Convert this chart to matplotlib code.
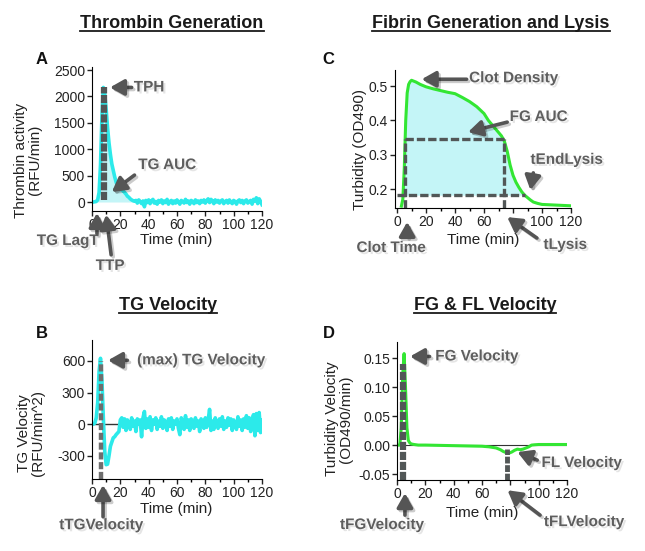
import matplotlib
matplotlib.use('Agg')
import matplotlib.pyplot as plt
import matplotlib.patheffects as pe
from matplotlib.lines import Line2D
from matplotlib.ticker import MultipleLocator, FormatStrFormatter

plt.rcParams['font.family'] = ['Liberation Sans', 'DejaVu Sans']
plt.rcParams['axes.unicode_minus'] = False

W, H = 645, 551

# ---- data ----
# A: thrombin activity (RFU/min), one value per minute 0..120
tg_time = list(range(0, 121))
tg_activity = [0, 0, 5, 10, 40, 180, 700, 1600, 2170, 2050,
               1750, 1400, 1120, 900, 720, 600, 480, 380, 300, 260,
               240, 230, 210, 180, 150, 110, 90, 60, 40, 25,
               15, 30, -20, 40, 10, -30, 20, -90, 30, -10,
               40, -30, 20, 50, -20, 10, -40, 30, 0, 40,
               -30, 20, -10, 50, -40, 10, 30, -30, 20, -20,
               40, 0, -40, 30, 10, -20, 50, -10, 20, -40,
               30, 10, -30, 40, -10, 20, -30, 30, 0, 40,
               -20, 30, 60, -10, 50, 20, -30, 40, 0, 30,
               -20, 20, 40, -30, 10, 30, -20, 40, 0, -30,
               30, 10, -40, 20, 40, -10, 30, -30, 20, 40,
               -20, 10, 30, -40, 50, 20, 80, -30, 60, 10, -50]
tg_lagt = 3.5
ttp = 8.5
tph = 2170

# B: TG velocity (RFU/min^2), one value per minute 0..120
tgv_time = list(range(0, 121))
tgv_value = [0, 0, 10, 60, 200, 500, 625, 420, 60, -260,
             -385, -380, -300, -210, -170, -130, -120, -100, -85, -70,
             40, 60, -30, 50, -60, 40, 10, -50, 60, -20,
             30, -70, 50, 0, 40, -120, 60, 120, -40, 50,
             -30, 70, -60, 40, 0, 60, -50, 30, -20, 70,
             -40, 40, 10, -60, 50, -20, 60, -50, 30, 0,
             50, -40, -100, 60, 20, -50, 80, -30, 40, -60,
             50, 0, -40, 60, -20, 30, -70, 50, 10, -40,
             60, -30, 40, 140, -60, 30, -50, 60, 0, -40,
             50, -20, 70, -50, 30, -30, 60, -10, 50, -60,
             40, 0, -50, 70, -20, 40, -60, 50, -30, 80,
             -40, 60, -70, 30, 90, -110, 100, -60, 110, -80, 40]
t_tgv = 6.0
max_tgv = 600

# C: turbidity (OD490)
fg_time = [3, 4, 5, 6, 7, 8, 9, 10, 13, 16, 20, 25, 30, 35, 40, 45, 50, 55,
           60, 63, 66, 69, 72, 74, 76, 78, 80, 82, 84, 86, 88, 90, 92, 94,
           97, 100, 105, 110, 115, 120]
fg_od = [0.15, 0.17, 0.26, 0.40, 0.48, 0.505, 0.513, 0.517, 0.512, 0.505,
         0.498, 0.492, 0.487, 0.482, 0.478, 0.467, 0.455, 0.44, 0.42, 0.40,
         0.385, 0.37, 0.355, 0.34, 0.31, 0.27, 0.24, 0.22, 0.205, 0.192,
         0.182, 0.175, 0.168, 0.162, 0.158, 0.155, 0.154, 0.153, 0.152, 0.151]
clot_time = 5.5
t_lysis = 73.5
t_end_lysis = 88
half_lysis_od = 0.345
baseline_od = 0.182

# D: turbidity velocity (OD490/min)
fgv_time = [0, 2, 3, 4, 5, 6, 7, 8, 9, 10, 12, 15, 20, 30, 40, 50, 60, 65,
            70, 73, 75, 77, 79, 81, 83, 85, 87, 89, 91, 93, 95, 97, 100, 110, 120]
fgv_value = [0, 0.0, 0.03, 0.12, 0.158, 0.10, 0.03, 0.008, 0.004, 0.002,
             0.001, 0.0, 0.0, -0.0005, -0.001, -0.0015, -0.002, -0.003,
             -0.005, -0.008, -0.011, -0.013, -0.014, -0.012, -0.009, -0.007,
             -0.008, -0.007, -0.005, -0.003, 0.0, 0.0005, 0.001, 0.001, 0.001]
t_fgv = 4.5
max_fgv = 0.14
t_flv = 77.5
min_flv = -0.006

cyan = '#2ceaea'
green = '#33e633'
fill_cyan = '#c4f5f7'
dash_col = '#525757'
lab_col = '#5e5e5e'

fig = plt.figure(figsize=(W / 100, H / 100), dpi=100)


def px_axes(l, t, r, b):
    return fig.add_axes([l / W, 1 - b / H, (r - l) / W, (b - t) / H])


def style(ax):
    for s in ['top', 'right']:
        ax.spines[s].set_visible(False)
    ax.tick_params(which='major', direction='out', length=3.5, width=1,
                   pad=1.5, labelsize=10, colors='#222222')
    ax.tick_params(which='minor', direction='out', length=2, width=1)
    ax.xaxis.set_major_locator(MultipleLocator(20))
    ax.xaxis.set_minor_locator(MultipleLocator(10))


def arrow(ax, head, tail):
    ax.annotate('', xy=head, xytext=tail, annotation_clip=False,
                arrowprops=dict(arrowstyle='-|>,head_width=0.34,head_length=0.6',
                                lw=2.6, color='#555555', mutation_scale=14,
                                shrinkA=0, shrinkB=0,
                                path_effects=[pe.SimpleLineShadow(offset=(1.5, -1.5), alpha=0.2),
                                              pe.Normal()]))


def label(ax, x, y, s, ha='left'):
    ax.text(x, y, s, ha=ha, va='center', fontsize=11, fontweight='bold',
            color=lab_col, clip_on=False,
            path_effects=[pe.SimplePatchShadow(offset=(1.5, -1.5), shadow_rgbFace='#999999', alpha=0.25),
                          pe.Normal()])


# ---- A ----
axA = px_axes(92, 67, 262, 211)
style(axA)
axA.set_xlim(0, 120)
axA.set_ylim(-170, 2557)
axA.yaxis.set_major_locator(MultipleLocator(500))
fill_t = [t for t in tg_time if tg_lagt <= t <= 30]
fill_v = [max(tg_activity[t], 0) for t in fill_t]
axA.fill_between(fill_t, fill_v, 0, color=fill_cyan, lw=0)
axA.plot(tg_time, tg_activity, color=cyan, lw=2.6)
axA.vlines(ttp, 40, tph, color=dash_col, lw=4.5, linestyles=(0, (1.3, 0.25)))
arrow(axA, (12.7, tph), (28, tph))
label(axA, 29.5, tph, 'TPH')
arrow(axA, (14, 190), (30, 510))
label(axA, 53, 700, 'TG AUC', ha='center')
arrow(axA, (tg_lagt, -208), (tg_lagt, -600))
label(axA, 4.5, -737, 'TG LagT', ha='right')
arrow(axA, (10, -240), (13.5, -1000))
label(axA, 12.7, -1210, 'TTP', ha='center')

# ---- B ----
axB = px_axes(92, 340, 262, 479)
style(axB)
axB.set_xlim(0, 120)
axB.set_ylim(-521, 799)
axB.yaxis.set_major_locator(MultipleLocator(300))
axB.axhline(0, color='#333333', lw=1)
axB.plot(tgv_time, tgv_value, color=cyan, lw=2.6)
axB.vlines(t_tgv, -521, max_tgv, color='#6e6e6e', lw=3.2, linestyles=(0, (1.6, 0.6)))
arrow(axB, (11.3, 606), (25, 606))
label(axB, 31.8, 606, '(max) TG Velocity')
arrow(axB, (7.8, -578), (7.8, -880))
label(axB, 6.5, -960, 'tTGVelocity', ha='center')

# ---- C ----
axC = px_axes(395, 70, 571, 208)
style(axC)
axC.set_xlim(-1.4, 120)
axC.set_ylim(0.1446, 0.547)
axC.yaxis.set_major_locator(MultipleLocator(0.1))
axC.yaxis.set_major_formatter(FormatStrFormatter('%.1f'))
axC.set_xticks([0, 20, 40, 60, 80, 100, 120], ['0', '20', '40', '60', '', '100', '120'])
axC.fill_between(fg_time, fg_od, baseline_od,
                 where=[clot_time - 1 <= t <= t_end_lysis for t in fg_time],
                 interpolate=True, color=fill_cyan, lw=0)
axC.plot(fg_time, fg_od, color=green, lw=2.2)
cdash = (0, (2.5, 0.9))
axC.vlines([clot_time, t_lysis], 0.1446, half_lysis_od, color=dash_col, lw=2.4, linestyles=cdash)
axC.hlines(half_lysis_od, clot_time, t_lysis, color=dash_col, lw=2.4, linestyles=cdash)
axC.hlines(baseline_od, 0, t_end_lysis, color=dash_col, lw=2.4, linestyles=cdash)
arrow(axC, (17, 0.52), (48, 0.52))
label(axC, 49.7, 0.523, 'Clot Density')
arrow(axC, (49, 0.366), (76, 0.395))
label(axC, 97.6, 0.41, 'FG AUC', ha='center')
arrow(axC, (92, 0.197), (94, 0.247))
label(axC, 117, 0.285, 'tEndLysis', ha='center')
arrow(axC, (7, 0.104), (7, 0.06))
label(axC, -4, 0.028, 'Clot Time', ha='center')
arrow(axC, (76, 0.118), (96.5, 0.057))
label(axC, 116, 0.037, 'tLysis', ha='center')

# ---- D ----
axD = px_axes(397, 342, 567, 480)
style(axD)
axD.set_xlim(0, 120)
axD.set_ylim(-0.0603, 0.178)
axD.yaxis.set_major_locator(MultipleLocator(0.05))
axD.yaxis.set_major_formatter(FormatStrFormatter('%.2f'))
axD.set_xticks([0, 20, 40, 60, 80, 100, 120], ['0', '20', '40', '60', '', '100', '120'])
axD.axhline(0, color='#333333', lw=0.8)
axD.plot(fgv_time, fgv_value, color=green, lw=2.2)
axD.vlines(t_fgv, -0.0603, max_fgv, color=dash_col, lw=4.5, linestyles=(0, (1.3, 0.3)))
axD.vlines(t_flv, -0.0603, min_flv, color=dash_col, lw=3.5, linestyles=(0, (1.4, 0.35)))
arrow(axD, (9.2, 0.153), (23, 0.153))
label(axD, 27, 0.153, 'FG Velocity')
arrow(axD, (85, -0.012), (99, -0.026))
label(axD, 102, -0.031, 'FL Velocity')
arrow(axD, (5.6, -0.083), (5.6, -0.121))
label(axD, -10.6, -0.138, 'tFGVelocity', ha='center')
arrow(axD, (78, -0.078), (101, -0.121))
label(axD, 132, -0.133, 'tFLVelocity', ha='center')

# ---- axis labels ----
def ftext(x, y, s, **kw):
    return fig.text(x / W, 1 - y / H, s, **kw)


lab = dict(fontsize=11, color='#222222', ha='center', va='center', multialignment='center')
ftext(28, 160, 'Thrombin activity\n(RFU/min)', rotation=90, linespacing=1.0, **lab)
ftext(31, 433, 'TG Velocity\n(RFU/min^2)', rotation=90, linespacing=1.0, **lab)
ftext(360, 150, 'Turbidity (OD490)', rotation=90, **lab)
ftext(339, 419, 'Turbidity Velocity\n(OD490/min)', rotation=90, linespacing=1.0, **lab)
for x, y in [(176, 240), (176, 509), (483, 240), (482, 513)]:
    ftext(x, y, 'Time (min)', **lab)

for x, y, s in [(41.5, 60, 'A'), (328, 59, 'C'), (41.5, 333, 'B'), (329, 334, 'D')]:
    ftext(x, y, s, fontsize=12, fontweight='bold', ha='center', va='center', color='#111111')

# ---- titles with underline ----
titles = []
for x, y, s in [(172, 28, 'Thrombin Generation'), (491, 28, 'Fibrin Generation and Lysis'),
                (168, 310, 'TG Velocity'), (485, 310, 'FG & FL Velocity')]:
    titles.append((ftext(x, y, s, fontsize=13, fontweight='bold', ha='center',
                         va='baseline', color='#1a1a1a'), y))

fig.canvas.draw()
renderer = fig.canvas.get_renderer()
for t, y in titles:
    bb = t.get_window_extent(renderer)
    yy = 1 - (y + 3) / H
    fig.add_artist(Line2D([bb.x0 / W, bb.x1 / W], [yy, yy], transform=fig.transFigure,
                          color='#1a1a1a', lw=1.3))

fig.savefig('out.png', dpi=100)
